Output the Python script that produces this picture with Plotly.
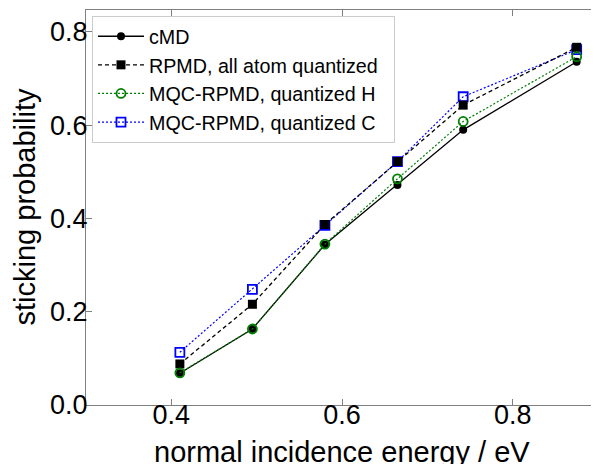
import plotly.graph_objects as go

energy = [0.41, 0.495, 0.58, 0.665, 0.742, 0.875]
cmd = [0.068, 0.163, 0.344, 0.472, 0.590, 0.736]
rpmd = [0.088, 0.216, 0.387, 0.522, 0.643, 0.767]
mqc_h = [0.069, 0.163, 0.345, 0.485, 0.608, 0.747]
mqc_c = [0.113, 0.248, 0.385, 0.522, 0.661, 0.762]

x_ticks = [0.4, 0.6, 0.8]
y_ticks = [0.0, 0.2, 0.4, 0.6, 0.8]

x_title = "normal incidence energy / eV"
y_title = "sticking probability"

FONT = "Liberation Sans, Arial, sans-serif"

fig = go.Figure()

fig.add_trace(go.Scatter(
    x=energy, y=mqc_c, name="MQC-RPMD, quantized C", legendrank=4,
    mode="lines+markers",
    line=dict(color="#0000ff", width=1.2, dash="2px,2px"),
    marker=dict(symbol="square-open", size=9, color="#0000ff", line=dict(width=1.8)),
))
fig.add_trace(go.Scatter(
    x=energy, y=cmd, name="cMD", legendrank=1,
    mode="lines+markers",
    line=dict(color="black", width=1.3),
    marker=dict(symbol="circle", size=8, color="black"),
))
fig.add_trace(go.Scatter(
    x=energy, y=rpmd, name="RPMD, all atom quantized\u00a0\u00a0", legendrank=2,
    mode="lines+markers",
    line=dict(color="black", width=1.3, dash="4px,3px"),
    marker=dict(symbol="square", size=9, color="black"),
))
fig.add_trace(go.Scatter(
    x=energy, y=mqc_h, name="MQC-RPMD, quantized H", legendrank=3,
    mode="lines+markers",
    line=dict(color="#008000", width=1.2, dash="2px,2px"),
    marker=dict(symbol="circle-open", size=9, color="#008000", line=dict(width=1.8)),
))

axis_common = dict(
    showgrid=False, zeroline=False, automargin=False,
    showline=True, linecolor="#808080", linewidth=1.2, mirror="ticks",
    ticks="inside", ticklen=6, tickcolor="#808080", tickwidth=1,
    tickfont=dict(family=FONT, size=27, color="black"),
)

fig.update_xaxes(
    range=[0.3, 0.9], tickvals=x_ticks, ticktext=[f"{v:.1f}" for v in x_ticks],
    ticklabelstandoff=-15,
    **axis_common,
)
fig.update_yaxes(
    range=[0.0, 0.847], tickvals=y_ticks, ticktext=[f"{v:.1f}" for v in y_ticks],
    ticklabelstandoff=-8,
    **axis_common,
)

# axis titles as annotations for exact placement
fig.add_annotation(
    text=x_title, xref="paper", yref="paper", x=0.5, y=0,
    xanchor="center", yanchor="middle", yshift=-47, showarrow=False,
    font=dict(family=FONT, size=29, color="black"),
)
fig.add_annotation(
    text=y_title, xref="paper", yref="paper", x=0, y=0.5,
    xanchor="center", yanchor="middle", xshift=-62, textangle=-90, showarrow=False,
    font=dict(family=FONT, size=29, color="black"),
)

# page body adds an 8px offset; size the figure so the plot lands where the reference has it
fig.update_layout(
    width=591, height=456,
    margin=dict(l=78, r=1, t=2, b=59),
    paper_bgcolor="white", plot_bgcolor="white",
    showlegend=True,
    legend=dict(
        x=0.0117, y=0.985, xanchor="left", yanchor="top",
        bgcolor="white", bordercolor="#cccccc", borderwidth=1,
        font=dict(family=FONT, size=19.7, color="black"),
        itemwidth=46,
    ),
)

fig.write_html("out.html")
